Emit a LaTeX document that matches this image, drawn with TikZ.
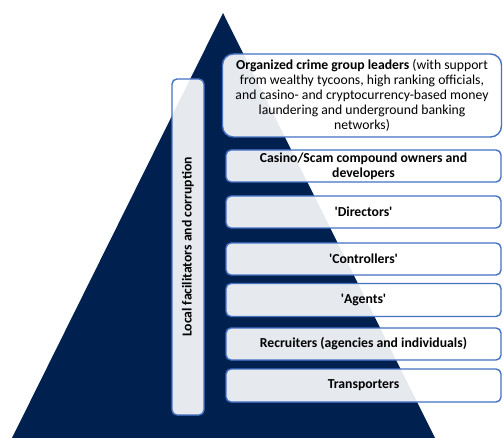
\documentclass[tikz,border=0pt]{standalone}
\usepackage{fontspec}
\setmainfont{Carlito}
\definecolor{navy}{RGB}{0,33,80}
\definecolor{boxline}{RGB}{68,114,196}
\newcommand{\sq}{\textquotesingle}
\tikzset{
  tier/.style={draw=boxline, line width=1.4pt, fill=white, fill opacity=0.9, text opacity=1,
    rounded corners=5pt, minimum width=275pt, minimum height=32pt, inner sep=0pt,
    align=center, font=\fontsize{13.7pt}{15pt}\selectfont\bfseries, text=black},
}
\begin{document}
\begin{tikzpicture}[x=1pt,y=-1pt]
\useasboundingbox (0,0) rectangle (503,438);
\fill[navy] (223,13) -- (435,438) -- (12,438) -- cycle;
\node[tier, rounded corners=11pt, minimum width=279pt, minimum height=83pt,
  font=\fontsize{13.7pt}{15pt}\selectfont] (leaders) at (362,95.5)
  {\textbf{Organized crime group leaders} (with support\\from wealthy tycoons, high ranking officials,\\and casino- and cryptocurrency-based money\\laundering and underground banking\\networks)};
\node[tier] (owners) at (363.5,166) {Casino/Scam compound owners and\\developers};
\node[tier] (directors) at (363.5,212) {\sq Directors\sq};
\node[tier] (controllers) at (363.5,259) {\sq Controllers\sq};
\node[tier, minimum height=33pt] (agents) at (363.5,300) {\sq Agents\sq};
\node[tier] (recruiters) at (363.5,344) {Recruiters (agencies and individuals)};
\node[tier, minimum height=33pt] (transporters) at (363.5,385.5) {Transporters};
\node[tier, minimum width=32pt, minimum height=336pt] (local) at (188,247) {};
\node[font=\fontsize{13.7pt}{15pt}\selectfont\bfseries, rotate=90] (localtext) at (local.center) {Local facilitators and corruption};
\end{tikzpicture}
\end{document}
